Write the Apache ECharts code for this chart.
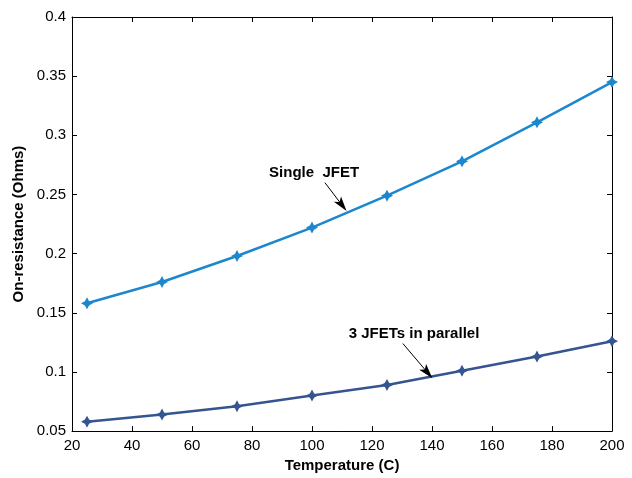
<!DOCTYPE html>
<html lang="en">
<head>
    <meta charset="UTF-8">
    <title>On-resistance vs temperature</title>
    <script src="https://cdn.jsdelivr.net/npm/echarts@6/dist/echarts.min.js"></script>
</head>
<body style="height: 100%; margin: 0; background: #fff">
<div id="chart" style="width: 632px; height: 478px"></div>

<script>
    // data
    let temps = [25, 50, 75, 100, 125, 150, 175, 200];
    let singleJfet = [0.158, 0.176, 0.198, 0.222, 0.249, 0.278, 0.311, 0.345];
    let parallelJfet = [0.058, 0.064, 0.071, 0.080, 0.089, 0.101, 0.113, 0.126];

    // annotation text positions and arrows (data coordinates)
    let noteSingle = {text: 'Single  JFET', at: [100.7, 0.268]};
    let noteParallel = {text: '3 JFETs in parallel', at: [134, 0.132]};
    // arrow end = centre of the head, the tip sits a little further on
    let arrowSingle = [[104.3, 0.260], [110, 0.241]];
    let arrowParallel = [[130.3, 0.124], [138.5, 0.0995]];

    let font = 'Liberation Sans, Arial, Helvetica, sans-serif';
    let star = 'path://M0,-6 L2.1,-2.1 L6,0 L2.1,2.1 L0,6 L-2.1,2.1 L-6,0 L-2.1,-2.1 Z';
    let arrowHead = 'path://M0,0 L4,13 L0,10 L-4,13 Z';

    function pairs(xs, ys) {
        let out = [];
        for (let i = 0; i < xs.length; i++) out.push([xs[i], ys[i]]);
        return out;
    }

    function arrowLine(a) {
        return [[{coord: a[0]}, {coord: a[1]}]];
    }

    function noteMark(n) {
        return {
            silent: true, symbol: 'circle', symbolSize: 0,
            itemStyle: {color: '#000'},
            label: {
                show: true, position: 'inside', formatter: n.text,
                fontFamily: font, fontWeight: 'bold', fontSize: 15, color: '#000',
                textBorderWidth: 0
            },
            data: [{coord: n.at}]
        };
    }

    let axisCommon = {
        axisLine: {show: true, lineStyle: {color: '#000', width: 1}},
        axisTick: {show: true, inside: true, length: 5, lineStyle: {color: '#000'}},
        splitLine: {show: false}
    };

    let arrowStyle = {
        silent: true, symbol: ['none', arrowHead], symbolSize: [9, 15],
        label: {show: false},
        lineStyle: {color: '#000', width: 1, type: 'solid'},
        itemStyle: {color: '#000'},
        emphasis: {disabled: true}
    };

    let chart = echarts.init(document.getElementById('chart'));
    let option = {
        animation: false,
        backgroundColor: '#fff',
        grid: {left: 72, right: 20, top: 17, bottom: 42},
        xAxis: [
            Object.assign({
                type: 'value', min: 20, max: 200, interval: 20, position: 'bottom',
                name: 'Temperature (C)', nameLocation: 'middle', nameGap: 26,
                nameTextStyle: {fontFamily: font, fontWeight: 'bold', fontSize: 15, color: '#000'},
                axisLabel: {fontFamily: font, fontSize: 15, color: '#000', margin: 7}
            }, axisCommon),
            Object.assign({
                type: 'value', min: 20, max: 200, interval: 20, position: 'top',
                axisLabel: {show: false}
            }, axisCommon)
        ],
        yAxis: [
            Object.assign({
                type: 'value', min: 0.05, max: 0.4, interval: 0.05, position: 'left',
                name: 'On-resistance (Ohms)', nameLocation: 'middle', nameGap: 46,
                nameTextStyle: {fontFamily: font, fontWeight: 'bold', fontSize: 15, color: '#000'},
                axisLabel: {fontFamily: font, fontSize: 15, color: '#000', margin: 6,
                    formatter: function (v) { return String(+v.toFixed(2)); }}
            }, axisCommon),
            Object.assign({
                type: 'value', min: 0.05, max: 0.4, interval: 0.05, position: 'right',
                axisLabel: {show: false}
            }, axisCommon)
        ],
        series: [
            {
                name: 'Single JFET',
                type: 'line',
                data: pairs(temps, singleJfet),
                symbol: star, symbolSize: 12, showAllSymbol: true,
                lineStyle: {color: '#1b87cc', width: 2.5},
                itemStyle: {color: '#1b87cc'},
                markLine: Object.assign({data: arrowLine(arrowSingle)}, arrowStyle),
                markPoint: noteMark(noteSingle)
            },
            {
                name: '3 JFETs in parallel',
                type: 'line',
                data: pairs(temps, parallelJfet),
                symbol: star, symbolSize: 12, showAllSymbol: true,
                lineStyle: {color: '#34558f', width: 2.5},
                itemStyle: {color: '#34558f'},
                markLine: Object.assign({data: arrowLine(arrowParallel)}, arrowStyle),
                markPoint: noteMark(noteParallel)
            }
        ]
    };
    chart.setOption(option);
</script>
</body>
</html>
